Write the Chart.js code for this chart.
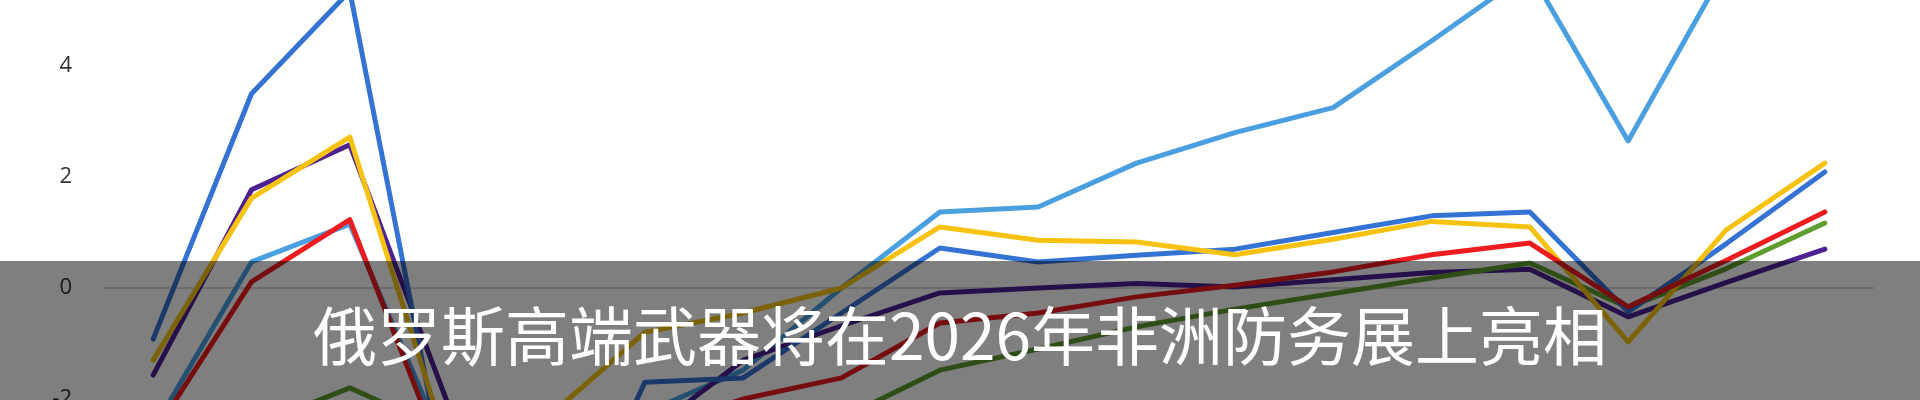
<!DOCTYPE html>
<html>
<head>
<meta charset="utf-8">
<script src="https://cdn.jsdelivr.net/npm/chart.js@4/dist/chart.umd.min.js"></script>
<style>
  html, body { margin: 0; padding: 0; background: #ffffff; overflow: hidden; }
  #wrap { position: relative; width: 1920px; height: 400px; overflow: hidden; background: #fff; }
  #c { position: absolute; left: 0; top: 0; }
  #banner {
    position: absolute; left: 0; top: 261px; width: 1920px; height: 142px;
    background: rgba(0,0,0,0.5);
    display: flex; align-items: center; justify-content: center;
    color: #ffffff; font-family: "Noto Sans CJK SC", "Noto Sans", sans-serif;
    font-size: 64px; font-weight: 400; line-height: 1;
  }
</style>
</head>
<body>
<div id="wrap">
  <canvas id="c" width="1920" height="400"></canvas>
  <div id="banner">俄罗斯高端武器将在2026年非洲防务展上亮相</div>
</div>
<script>
// ---- data ----
const categories = ['1','2','3','4','5','6','7','8','9','10','11','12','13','14','15','16','17','18'];
const yTicks = [-2, 0, 2, 4];

const redSeries        = [-2.65, 0.11, 1.23, -3.3, -3.0, -2.6, -2.0, -1.62, -0.63, -0.45, -0.16, 0.05, 0.29, 0.6, 0.81, -0.34, 0.5, 1.37];
const yellowSeries     = [-1.3, 1.62, 2.72, -2.9, -2.35, -0.8, -0.45, 0.0, 1.1, 0.86, 0.83, 0.6, 0.88, 1.2, 1.1, -0.97, 1.05, 2.25];
const greenSeries      = [-3.2, -2.5, -1.8, -2.6, -3.0, -3.2, -2.9, -2.35, -1.48, -1.1, -0.7, -0.38, -0.1, 0.18, 0.45, -0.35, 0.35, 1.17];
const blueSeries       = [-0.92, 3.5, 5.35, -3.7, -5.5, -1.7, -1.62, -0.45, 0.72, 0.47, 0.59, 0.7, 1.0, 1.3, 1.37, -0.43, 0.8, 2.09];
const lightBlueSeries  = [-2.55, 0.47, 1.15, -3.0, -3.4, -2.25, -1.48, 0.0, 1.37, 1.46, 2.25, 2.8, 3.25, 4.45, 5.7, 2.65, 5.8, 6.5];
const purpleSeries     = [-1.57, 1.77, 2.58, -2.1, -3.0, -2.65, -1.3, -0.68, -0.09, 0.0, 0.08, 0.02, 0.15, 0.28, 0.34, -0.52, 0.1, 0.7];

function ds(label, data, color) {
  return {
    label, data,
    borderColor: color, backgroundColor: color,
    borderWidth: 5, pointRadius: 0, tension: 0,
    borderCapStyle: 'round', borderJoinStyle: 'round', fill: false
  };
}

new Chart(document.getElementById('c'), {
  type: 'line',
  data: {
    labels: categories,
    datasets: [
      ds('red', redSeries, '#ec1c1f'),
      ds('yellow', yellowSeries, '#f6c20f'),
      ds('blue', blueSeries, '#3472d3'),
      ds('green', greenSeries, '#5f9d2e'),
      ds('purple', purpleSeries, '#4d2192'),
      ds('lightblue', lightBlueSeries, '#4a9fe0')
    ]
  },
  options: {
    responsive: false,
    animation: false,
    events: [],
    layout: { padding: { left: 0, right: 46, top: 0, bottom: 0 } },
    plugins: { legend: { display: false }, tooltip: { enabled: false }, title: { display: false } },
    scales: {
      x: { display: false, offset: true, grid: { display: false } },
      y: {
        min: -2.018, max: 5.189,
        afterBuildTicks: (scale) => { scale.ticks = yTicks.map(v => ({ value: v })); },
        afterFit: (scale) => { scale.width = 104; scale.paddingTop = 0; scale.paddingBottom = 0; },
        border: { display: false },
        grid: {
          drawTicks: false,
          color: (ctx) => (ctx.tick && ctx.tick.value === 0) ? '#d9d9d9' : 'rgba(0,0,0,0)',
          lineWidth: 2
        },
        ticks: {
          padding: 32,
          color: '#333333',
          font: { family: 'Open Sans, Liberation Sans, Arial, sans-serif', size: 22 },
          callback: (v) => String(v)
        }
      }
    }
  }
});
</script>
</body>
</html>
